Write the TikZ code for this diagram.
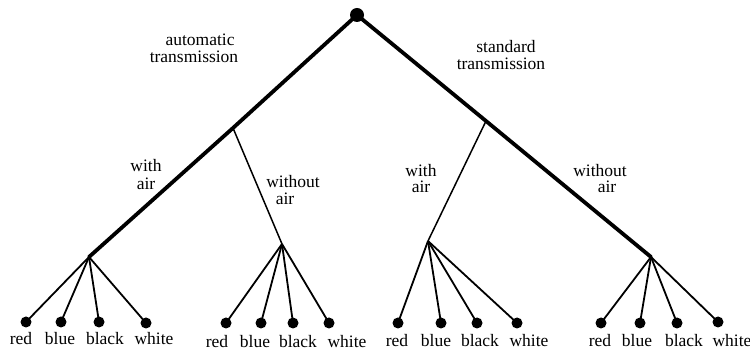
\documentclass[tikz,border=0pt]{standalone}
\usepackage{fontspec}
\setmainfont{Liberation Serif}
\begin{document}
\begin{tikzpicture}[x=1pt,y=-1pt,
  leaf/.style={circle,fill=black,inner sep=0pt,minimum size=11pt},
  rootdot/.style={circle,fill=black,inner sep=0pt,minimum size=14pt},
  thickedge/.style={line width=3.8pt},
  midedge/.style={line width=1.5pt},
  leafedge/.style={line width=1.8pt},
  lbl/.style={font=\fontsize{17.5}{17}\selectfont,inner sep=0pt,anchor=base,align=center},
  clabel/.style={font=\fontsize{17.5}{17}\selectfont,inner sep=0pt,anchor=base}]
\useasboundingbox (0,0) rectangle (750,352);
% tree nodes
\node[rootdot] (root) at (357,15) {};
\coordinate (A) at (233,128);
\coordinate (S) at (486,121);
\coordinate (LL) at (89,257);
\coordinate (LR) at (282,244);
\coordinate (RL) at (428,241);
\coordinate (RR) at (651,257);
% leaves
\node[leaf] (g1a) at (26,322) {};
\node[leaf] (g1b) at (61,322) {};
\node[leaf] (g1c) at (99,322) {};
\node[leaf] (g1d) at (146,323) {};
\node[leaf] (g2a) at (226,323) {};
\node[leaf] (g2b) at (261,323) {};
\node[leaf] (g2c) at (293,323) {};
\node[leaf] (g2d) at (329,323) {};
\node[leaf] (g3a) at (398,323) {};
\node[leaf] (g3b) at (441,323) {};
\node[leaf] (g3c) at (477,323) {};
\node[leaf] (g3d) at (517,323) {};
\node[leaf] (g4a) at (601,323) {};
\node[leaf] (g4b) at (640,323) {};
\node[leaf] (g4c) at (677,323) {};
\node[leaf] (g4d) at (718,322) {};
% thick branches
\draw[thickedge,line cap=round] (root.center) -- (A) -- (LL);
\draw[thickedge,line cap=round] (root.center) -- (S) -- (RR);
% middle branches
\draw[midedge] (A) -- (LR);
\draw[midedge] (S) -- (RL);
% leaf edges
\foreach \g/\p in {g1/LL,g2/LR,g3/RL,g4/RR}{
  \foreach \l in {a,b,c,d}{
    \draw[leafedge] (\p) -- (\g\l.center);
  }
}
% branch labels (anchor = baseline of last line)
\node[lbl] (tauto) at (194,63) {\hspace*{12pt}automatic\\transmission};
\node[lbl] (tstd) at (501,70) {\hspace*{10pt}standard\\transmission};
\node[lbl] (wa1) at (146,190) {with\\[1pt]air};
\node[lbl] (woa1) at (293,205) {without\\\hspace*{-16pt}air};
\node[lbl] (wa2) at (421,193) {with\\[-1pt]air};
\node[lbl] (woa2) at (600,193) {without\\[-1pt]\hspace*{14pt}air};
% colour labels
\node[clabel] (c1a) at (21,345) {red};
\node[clabel] (c1b) at (60,345) {blue};
\node[clabel] (c1c) at (105,345) {black};
\node[clabel] (c1d) at (154,345) {white};
\node[clabel] (c2a) at (217,348) {red};
\node[clabel] (c2b) at (255,348) {blue};
\node[clabel] (c2c) at (298,348) {black};
\node[clabel] (c2d) at (347,348) {white};
\node[clabel] (c3a) at (397,347) {red};
\node[clabel] (c3b) at (436,347) {blue};
\node[clabel] (c3c) at (480,347) {black};
\node[clabel] (c3d) at (529,347) {white};
\node[clabel] (c4a) at (600,347) {red};
\node[clabel] (c4b) at (637,347) {blue};
\node[clabel] (c4c) at (684,347) {black};
\node[clabel] (c4d) at (732,347) {white};
\end{tikzpicture}
\end{document}
